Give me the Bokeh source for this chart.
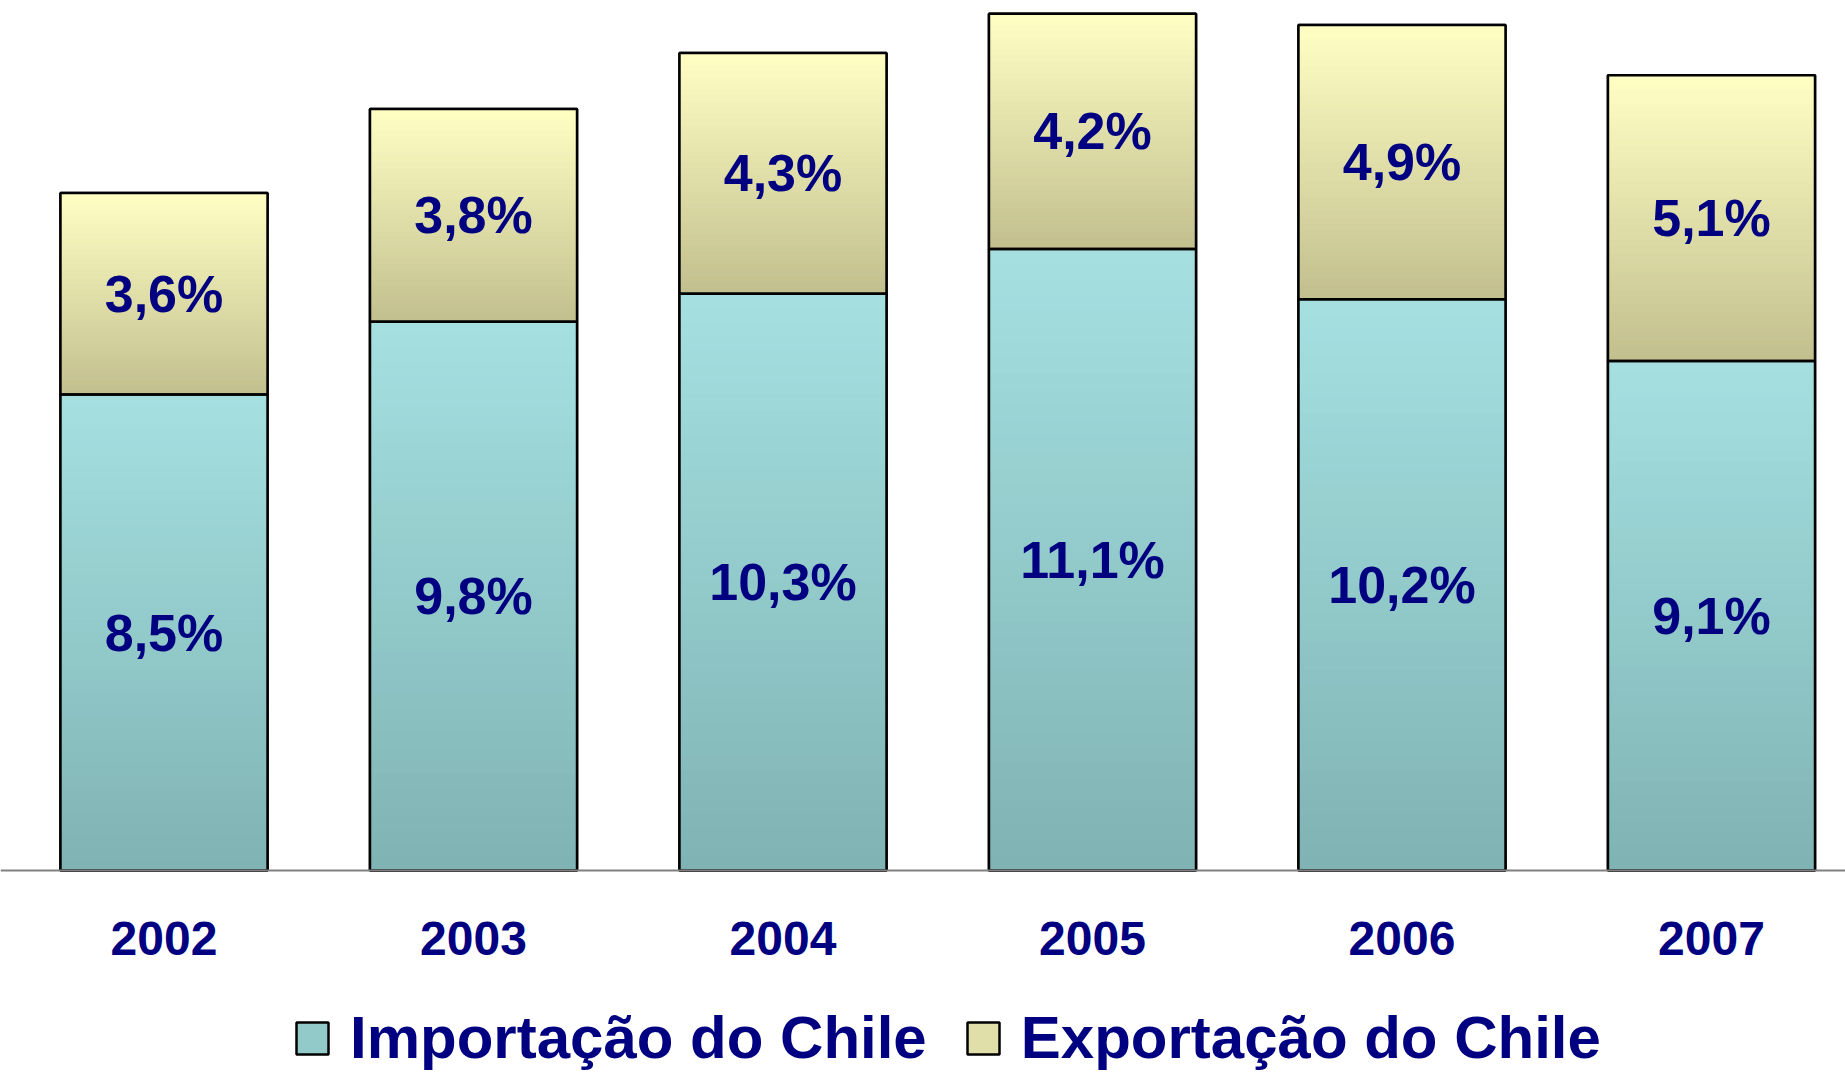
import numpy as np
from bokeh.plotting import figure
from bokeh.models import ColumnDataSource, Range1d, Legend, LegendItem, Span
from bokeh.core.properties import value
from bokeh.embed import file_html
from bokeh.resources import INLINE

# ---- data ----
years = ["2002", "2003", "2004", "2005", "2006", "2007"]
importacao = [8.5, 9.8, 10.3, 11.1, 10.2, 9.1]
exportacao = [3.6, 3.8, 4.3, 4.2, 4.9, 5.1]
series_names = ["Importação do Chile", "Exportação do Chile"]

# ---- style ----
NAVY = "#000080"
FONT = "Liberation Sans"
IMP_TOP, IMP_BOT = "#A5E0E1", "#80B3B3"
EXP_TOP, EXP_BOT = "#FFFFC4", "#C2BF8E"
BAR_W = 0.669


def hex2rgb(h):
    return np.array([int(h[i:i + 2], 16) for i in (1, 3, 5)], dtype=float)


def mix(c_bot, c_top, f):
    a, b = hex2rgb(c_bot), hex2rgb(c_top)
    c = a + (b - a) * f
    return "#%02x%02x%02x" % tuple(int(round(v)) for v in c)


def fmt(v):
    return ("%.1f" % v).replace(".", ",") + "%"


xs = list(range(len(years)))
imp = np.array(importacao)
exp = np.array(exportacao)

src = ColumnDataSource(dict(x=xs, imp=importacao, exp=exportacao))

p = figure(frame_width=1845, frame_height=1072,
           x_range=Range1d(-0.5283, 5.433), y_range=Range1d(-3.607, 15.536),
           x_axis_location=None, y_axis_location=None,
           output_backend="svg", toolbar_location=None, min_border=0)
p.grid.visible = False
p.outline_line_color = None
p.background_fill_color = "white"
p.border_fill_color = "white"

# baseline (category axis line)
p.add_layout(Span(location=0, dimension="width", line_color="#808080", line_width=2))

# base bars (also used for the legend swatches)
base = p.vbar_stack(["imp", "exp"], x="x", width=BAR_W, source=src,
                    fill_color=[mix(IMP_BOT, IMP_TOP, 0.5), mix(EXP_BOT, EXP_TOP, 0.5)],
                    line_color="black", line_width=2.5)

# vertical gradient strips
N = 40
sx, sb, st, sc = [], [], [], []
for i in xs:
    for bottom, top, cb, ct in ((0.0, imp[i], IMP_BOT, IMP_TOP),
                                (imp[i], imp[i] + exp[i], EXP_BOT, EXP_TOP)):
        for k in range(N):
            sx.append(i)
            sb.append(bottom + (top - bottom) * k / N)
            st.append(bottom + (top - bottom) * (k + 1) / N)
            sc.append(mix(cb, ct, (k + 0.5) / N))
strips = ColumnDataSource(dict(x=sx, bottom=sb, top=st, color=sc))
p.vbar(x="x", bottom="bottom", top="top", width=BAR_W, source=strips,
       fill_color="color", line_color="color", line_width=1)

# outlines on top
p.vbar_stack(["imp", "exp"], x="x", width=BAR_W, source=src,
             fill_alpha=0, line_color="black", line_width=2.5)

# value labels
lab = ColumnDataSource(dict(
    x=xs + xs,
    y=list(imp / 2) + list(imp + exp / 2),
    t=[fmt(v) for v in importacao] + [fmt(v) for v in exportacao],
))
p.text(x="x", y="y", text="t", source=lab, text_align="center",
       text_baseline="middle", text_font=value(FONT), text_font_style="bold",
       text_font_size="52px", text_color=NAVY)

# category labels under the baseline
ysrc = ColumnDataSource(dict(x=xs, y=[0] * len(xs), t=years))
p.text(x="x", y="y", text="t", source=ysrc, y_offset=68, text_align="center",
       text_baseline="middle", text_font=value(FONT), text_font_style="bold",
       text_font_size="48px", text_color=NAVY)

legend = Legend(items=[LegendItem(label=series_names[0], renderers=[base[0]]),
                       LegendItem(label=series_names[1], renderers=[base[1]])],
                orientation="horizontal", location=(292, 0),
                label_text_font=FONT, label_text_font_style="bold",
                label_text_font_size="60px", label_text_color=NAVY,
                glyph_width=40, glyph_height=40, label_standoff=18, spacing=36,
                border_line_color=None, background_fill_alpha=0,
                padding=0, margin=0)
p.add_layout(legend, "center")

open("out.html", "w").write(file_html(p, INLINE))
